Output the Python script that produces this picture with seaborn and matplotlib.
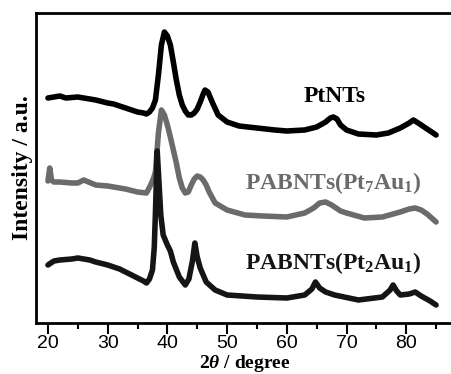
import matplotlib
matplotlib.use("Agg")
import matplotlib.pyplot as plt
import seaborn as sns
import pandas as pd
from matplotlib.ticker import MultipleLocator

# ---- data (2theta in degree, intensity in arbitrary units, offset traces) ----
pt_x = [20, 21, 22, 23, 25, 27, 28, 30, 31, 33, 34, 35, 36, 36.5, 37, 37.5, 38, 38.5, 39, 39.5,
        40, 40.5, 41, 41.5, 42, 42.5, 43, 43.5, 44, 44.5, 45, 45.5, 46, 46.3, 46.8, 47.5, 48.5,
        50, 52, 55, 58, 60, 63, 65, 66.5, 67.3, 67.8, 68.4, 69, 70, 72, 75, 77, 79, 80.5,
        81.2, 82, 83, 84, 85]
pt_y = [225, 226, 227, 225, 226, 224, 223, 220, 219, 215, 213, 211, 210, 209, 211, 215, 223, 248,
        278, 291, 287, 278, 261, 243, 228, 218, 212, 208, 208, 210, 214, 221, 229, 233, 231, 221,
        208, 201, 197, 195, 193, 192, 193, 196, 201, 205, 206, 204, 198, 193, 189, 188, 190, 195,
        200, 203, 200, 196, 192, 188]

pt7_x = [20, 20.3, 20.6, 21, 22, 24, 25, 26, 28, 30, 31, 33, 35, 36.5, 37.2, 37.7, 38, 38.5, 39,
         39.5, 40, 40.5, 41, 41.5, 42, 42.5, 43, 43.5, 44, 44.5, 45, 45.5, 46, 46.5, 47, 48,
         50, 53, 56, 60, 63, 64.5, 65.5, 66.5, 67.5, 69, 70, 73, 76, 79, 80.5, 81.5, 82.5, 83.5,
         85]
pt7_y = [142, 155, 143, 141, 141, 140, 140, 143, 138, 137, 136, 134, 131, 130, 138, 145, 151,
         190, 213, 208, 198, 186, 173, 160, 145, 135, 130, 131, 138, 144, 147, 146, 143, 138, 131,
         120, 113, 108, 107, 106, 110, 115, 120, 121, 118, 112, 110, 105, 106, 111, 114, 115,
         113, 109, 101]

pt2_x = [20, 21, 22, 24, 25, 26, 27, 28, 30, 32, 33, 35, 36, 36.5, 37, 37.5, 37.8, 38.0, 38.3,
         38.6, 38.9, 39.3, 40, 40.5, 41, 42, 43, 43.6, 44.2, 44.6, 45.0, 45.5, 46.5, 48,
         50, 55, 60, 63, 64.2, 64.8, 65.5, 66.5, 68, 72, 76, 77.3, 77.8, 78.4, 79, 80.5, 81.5,
         82.5, 84, 85]
pt2_y = [58, 62, 63, 64, 65, 64, 63, 61, 58, 54, 51, 45, 42, 40, 44, 53, 75, 110, 172,
         140, 108, 88, 78, 72, 61, 46, 38, 44, 62, 80, 66, 55, 41, 33, 28, 26, 25, 28, 34,
         41, 35, 31, 28, 23, 26, 33, 38, 32, 28, 29, 31, 27, 22, 18]

tick_values = [20, 30, 40, 50, 60, 70, 80]
labels = ["PtNTs", "PABNTs(Pt$_7$Au$_1$)", "PABNTs(Pt$_2$Au$_1$)"]
label_colors = ["#000000", "#6b6b6b", "#151515"]
line_colors = ["#000000", "#6b6b6b", "#151515"]

df = pd.concat([
    pd.DataFrame({"x": pt_x, "y": pt_y, "s": "PtNTs"}),
    pd.DataFrame({"x": pt7_x, "y": pt7_y, "s": "Pt7Au1"}),
    pd.DataFrame({"x": pt2_x, "y": pt2_y, "s": "Pt2Au1"}),
])

sns.set_style("white")
plt.rcParams["mathtext.fontset"] = "custom"
plt.rcParams["mathtext.rm"] = "Liberation Serif:bold"
plt.rcParams["mathtext.bf"] = "Liberation Serif:bold"
plt.rcParams["mathtext.it"] = "Liberation Serif:italic:bold"
plt.rcParams["text.color"] = "black"
plt.rcParams["axes.labelcolor"] = "black"
plt.rcParams["xtick.color"] = "black"

fig = plt.figure(figsize=(4.52, 3.74), dpi=100)
ax = fig.add_axes([36 / 452, 51 / 374, 418 / 452, 310 / 374])

for name, col in zip(["PtNTs", "Pt7Au1", "Pt2Au1"], line_colors):
    sns.lineplot(data=df[df.s == name], x="x", y="y", ax=ax, color=col,
                 linewidth=4.0, sort=False, estimator=None)

ax.set_xlim(18, 88)
ax.set_ylim(0, 310)
ax.set_yticks([])
ax.set_xticks(tick_values)
ax.xaxis.set_minor_locator(MultipleLocator(5))
ax.tick_params(axis="x", which="major", direction="out", length=8, width=1.5,
               labelsize=14, pad=1, bottom=True, colors="black")
ax.tick_params(axis="x", which="minor", direction="out", length=4, width=1.5, bottom=True)
for lab in ax.get_xticklabels():
    lab.set_family("Liberation Sans")

for sp in ax.spines.values():
    sp.set_linewidth(2)
    sp.set_color("black")

ax.set_xlabel("2$\\it{\\theta}$ / degree", family="Liberation Serif", fontweight="bold",
              fontsize=14, labelpad=0, color="black")
ax.set_ylabel("Intensity / a.u.", family="Liberation Serif", fontweight="bold",
              fontsize=17, labelpad=2, color="black")

label_x = [68.1, 67.7, 67.7]
label_y = [226, 140, 60]
for t, c, lx, ly in zip(labels, label_colors, label_x, label_y):
    ax.text(lx, ly, t, color=c, family="Liberation Serif", fontweight="bold",
            fontsize=17, ha="center", va="center")

fig.savefig("out.png", dpi=100)
